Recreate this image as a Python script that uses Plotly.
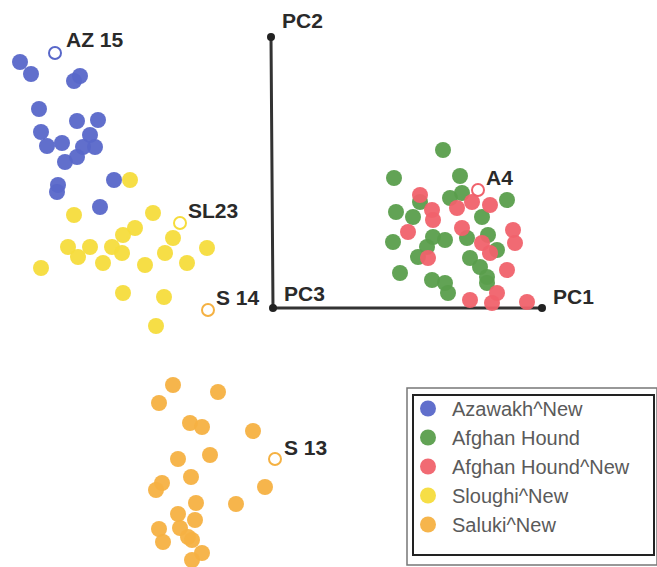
import plotly.graph_objects as go

# Coordinates in the chart's own PC plane units (screen-like, y downward)
az_x = [20, 31, 74, 80, 39, 77, 98, 41, 47, 62, 90, 95, 83, 65, 77, 58, 57, 114, 100]
az_y = [62, 74, 81, 76, 109, 121, 120, 132, 146, 143, 135, 147, 147, 162, 157, 185, 192, 180, 207]

ag_x = [443, 394, 460, 507, 396, 420, 450, 462, 413, 482, 393, 433, 445, 427, 467, 488, 418, 470, 480, 497, 400, 432, 445, 448, 487, 487]
ag_y = [150, 178, 176, 200, 212, 202, 198, 193, 217, 217, 242, 237, 240, 247, 238, 235, 257, 258, 267, 250, 273, 280, 283, 293, 277, 283]

agn_x = [420, 472, 490, 432, 457, 433, 408, 462, 513, 515, 482, 490, 428, 507, 497, 470, 492, 527]
agn_y = [195, 202, 205, 210, 208, 220, 232, 228, 230, 243, 243, 253, 258, 270, 293, 300, 303, 302]

sl_x = [130, 74, 153, 135, 123, 68, 78, 90, 112, 122, 103, 173, 165, 207, 187, 145, 41, 123, 164, 156]
sl_y = [180, 215, 213, 228, 235, 247, 257, 247, 247, 253, 263, 238, 253, 248, 263, 265, 268, 293, 297, 326]

sa_x = [173, 159, 218, 190, 202, 253, 210, 178, 191, 162, 156, 265, 236, 196, 178, 195, 159, 180, 188, 163, 192, 202, 192]
sa_y = [385, 403, 392, 423, 427, 431, 455, 459, 477, 483, 490, 487, 504, 503, 514, 520, 529, 528, 537, 542, 540, 553, 560]

# Highlighted individuals (open circles)
hl_names = ["AZ 15", "SL23", "S 14", "S 13", "A4"]
hl_x = [55, 180, 208, 275, 478]
hl_y = [53, 223, 310, 459, 190]

# PC axes
pc_names = ["PC2", "PC3", "PC1"]
pc_x = [271, 273, 542]
pc_y = [37, 308, 308]

series_names = ["Azawakh^New", "Afghan Hound", "Afghan Hound^New", "Sloughi^New", "Saluki^New"]
colors = ["#5867c9", "#5a9e4c", "#f0626c", "#f6dc3c", "#f5b142"]

W, H = 657, 567
fig = go.Figure()

# PC axes lines
fig.add_trace(go.Scatter(x=pc_x, y=pc_y, mode="lines+markers",
                         line=dict(color="#333333", width=3),
                         marker=dict(color="#222222", size=8),
                         showlegend=False, hoverinfo="skip"))

data = [(az_x, az_y), (ag_x, ag_y), (agn_x, agn_y), (sl_x, sl_y), (sa_x, sa_y)]
for (xs, ys), name, col in zip(data, series_names, colors):
    fig.add_trace(go.Scatter(x=xs, y=ys, mode="markers", name=name,
                             legendgroup=name,
                             marker=dict(color=col, size=16, opacity=0.95,
                                         line=dict(width=0))))

hl_colors = [colors[0], colors[3], colors[4], colors[4], colors[2]]
fig.add_trace(go.Scatter(x=hl_x, y=hl_y, mode="markers",
                         marker=dict(symbol="circle-open", size=12,
                                     color=hl_colors, line=dict(width=2, color=hl_colors)),
                         showlegend=False))

label_font = dict(family="Liberation Sans, Arial", size=21, color="#2a2a2a")
hl_shift = [(9, 14), (6, 13), (6, 13), (7, 12), (6, 13)]
for n, x, y, (dx, dy) in zip(hl_names, hl_x, hl_y, hl_shift):
    fig.add_annotation(x=x, y=y, text=f"<b>{n}</b>", showarrow=False,
                       xanchor="left", yanchor="middle", xshift=dx, yshift=dy,
                       font=label_font)
pc_shift = [(9, 17), (9, 15), (9, 12)]
for n, x, y, (dx, dy) in zip(pc_names, pc_x, pc_y, pc_shift):
    fig.add_annotation(x=x, y=y, text=f"<b>{n}</b>", showarrow=False,
                       xanchor="left", yanchor="middle", xshift=dx, yshift=dy,
                       font=label_font)

# Legend frame (double border)
fig.add_shape(type="rect", xref="paper", yref="paper",
              x0=407/W, x1=1.0, y0=1-565/H, y1=1-388/H,
              line=dict(color="#777777", width=1.5), fillcolor="white", layer="below")
fig.add_shape(type="rect", xref="paper", yref="paper",
              x0=413/W, x1=654/W, y0=1-555/H, y1=1-395/H,
              line=dict(color="#222222", width=2), layer="below")

fig.update_layout(
    width=W, height=H,
    margin=dict(l=0, r=0, t=0, b=0),
    paper_bgcolor="white", plot_bgcolor="white",
    xaxis=dict(range=[0, W], visible=False),
    yaxis=dict(range=[H, 0], visible=False),
    legend=dict(x=404/W, y=1-389/H, xanchor="left", yanchor="top",
                font=dict(family="Liberation Sans, Arial", size=20, color="#5a5a5a"),
                bgcolor="rgba(0,0,0,0)", borderwidth=0,
                itemwidth=38,
                traceorder="grouped", tracegroupgap=0),
    showlegend=True,
)

fig.write_html("out.html", config={"displayModeBar": False},
               post_script="document.body.style.margin='0';")
